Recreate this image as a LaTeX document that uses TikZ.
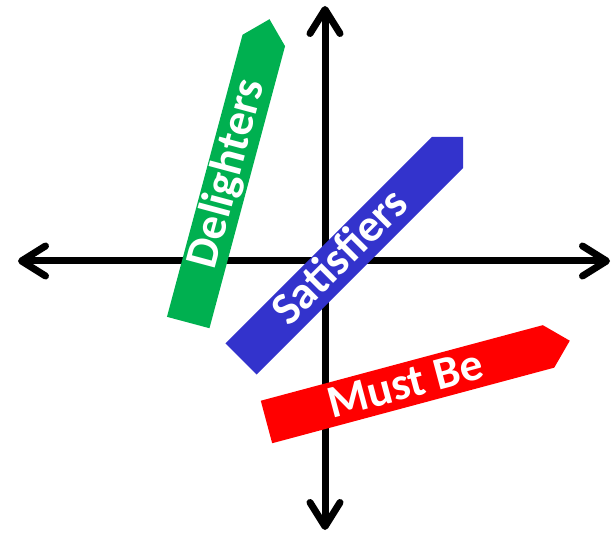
\documentclass[tikz,border=0pt]{standalone}
\usepackage{fontspec}
\setmainfont{Carlito}
\usetikzlibrary{arrows.meta}
\definecolor{dgreen}{RGB}{0,176,80}
\definecolor{sblue}{RGB}{51,51,204}
\definecolor{mred}{RGB}{255,0,0}
\tikzset{
  barb/.tip={Straight Barb[length=24pt,width=30pt,round]},
  axisline/.style={line width=7pt, barb-barb},
  bandtext/.style={text=white, font=\fontsize{46}{50}\selectfont\bfseries, inner sep=0pt,
    anchor=base, transform shape}
}
\begin{document}
\begin{tikzpicture}[x=1pt,y=1pt]
\useasboundingbox (0,0) rectangle (613,533);
\coordinate (L) at (18,272);
\coordinate (R) at (610,272);
\coordinate (T) at (325,527);
\coordinate (B) at (325,3);
\draw[axisline] (L) -- (R);
\draw[axisline] (B) -- (T);
\begin{scope}[shift={(226,351.5)},rotate=75]
  \fill[dgreen] (-146,-22) -- (146,-22) -- (168,0) -- (146,22) -- (-146,22) -- cycle;
  \node[bandtext] (del) at (8,-12) {Delighters};
\end{scope}
\begin{scope}[shift={(344.25,277.25)},rotate=45]
  \fill[sblue] (-146,-22) -- (146,-22) -- (168,0) -- (146,22) -- (-146,22) -- cycle;
  \node[bandtext] (sat) at (-4,-12) {Satisfiers};
\end{scope}
\begin{scope}[shift={(407.5,148.8)},rotate=15]
  \fill[mred] (-146,-22) -- (146,-22) -- (168,0) -- (146,22) -- (-146,22) -- cycle;
  \node[bandtext] (must) at (-2,-14) {Must Be};
\end{scope}
\end{tikzpicture}
\end{document}
